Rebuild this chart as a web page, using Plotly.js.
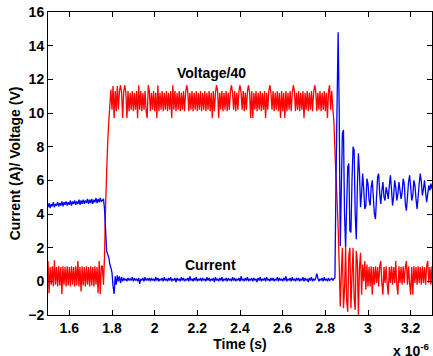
<!DOCTYPE html>
<html>
<head>
<meta charset="utf-8">
<script src="https://cdn.plot.ly/plotly-3.0.1.min.js"></script>
<style>html,body{margin:0;padding:0;background:#fff;}#chart{width:433px;height:356px;}</style>
</head>
<body>
<div id="chart"></div>
<script>
// Time in microseconds (axis shows x 10^-6 s)
const timeUs = [
  1.500,1.505,1.510,1.515,1.520,1.525,1.530,1.535,1.540,1.545,1.550,1.555,1.560,1.565,1.570,1.575,1.580,1.585,1.590,1.595,
  1.600,1.605,1.610,1.615,1.620,1.625,1.630,1.635,1.640,1.645,1.650,1.655,1.660,1.665,1.670,1.675,1.680,1.685,1.690,1.695,
  1.700,1.705,1.710,1.715,1.720,1.725,1.730,1.735,1.740,1.745,1.750,1.755,1.760,1.765,1.770,1.775,1.780,1.785,1.790,1.795,
  1.800,1.805,1.810,1.815,1.820,1.825,1.830,1.835,1.840,1.845,1.850,1.855,1.860,1.865,1.870,1.875,1.880,1.885,1.890,1.895,
  1.900,1.905,1.910,1.915,1.920,1.925,1.930,1.935,1.940,1.945,1.950,1.955,1.960,1.965,1.970,1.975,1.980,1.985,1.990,1.995,
  2.000,2.005,2.010,2.015,2.020,2.025,2.030,2.035,2.040,2.045,2.050,2.055,2.060,2.065,2.070,2.075,2.080,2.085,2.090,2.095,
  2.100,2.105,2.110,2.115,2.120,2.125,2.130,2.135,2.140,2.145,2.150,2.155,2.160,2.165,2.170,2.175,2.180,2.185,2.190,2.195,
  2.200,2.205,2.210,2.215,2.220,2.225,2.230,2.235,2.240,2.245,2.250,2.255,2.260,2.265,2.270,2.275,2.280,2.285,2.290,2.295,
  2.300,2.305,2.310,2.315,2.320,2.325,2.330,2.335,2.340,2.345,2.350,2.355,2.360,2.365,2.370,2.375,2.380,2.385,2.390,2.395,
  2.400,2.405,2.410,2.415,2.420,2.425,2.430,2.435,2.440,2.445,2.450,2.455,2.460,2.465,2.470,2.475,2.480,2.485,2.490,2.495,
  2.500,2.505,2.510,2.515,2.520,2.525,2.530,2.535,2.540,2.545,2.550,2.555,2.560,2.565,2.570,2.575,2.580,2.585,2.590,2.595,
  2.600,2.605,2.610,2.615,2.620,2.625,2.630,2.635,2.640,2.645,2.650,2.655,2.660,2.665,2.670,2.675,2.680,2.685,2.690,2.695,
  2.700,2.705,2.710,2.715,2.720,2.725,2.730,2.735,2.740,2.745,2.750,2.755,2.760,2.765,2.770,2.775,2.780,2.785,2.790,2.795,
  2.800,2.805,2.810,2.815,2.820,2.825,2.830,2.835,2.840,2.845,2.850,2.855,2.860,2.865,2.870,2.875,2.880,2.885,2.890,2.895,
  2.900,2.905,2.910,2.915,2.920,2.925,2.930,2.935,2.940,2.945,2.950,2.955,2.960,2.965,2.970,2.975,2.980,2.985,2.990,2.995,
  3.000,3.005,3.010,3.015,3.020,3.025,3.030,3.035,3.040,3.045,3.050,3.055,3.060,3.065,3.070,3.075,3.080,3.085,3.090,3.095,
  3.100,3.105,3.110,3.115,3.120,3.125,3.130,3.135,3.140,3.145,3.150,3.155,3.160,3.165,3.170,3.175,3.180,3.185,3.190,3.195,
  3.200,3.205,3.210,3.215,3.220,3.225,3.230,3.235,3.240,3.245,3.250,3.255,3.260,3.265,3.270,3.275,3.280,3.285,3.290,3.295,
  3.300
];

// Voltage divided by 40 (red)
const voltageOver40 = [
  // 1.500 - 1.750 (off state)
  1.2,-0.7,0.85,-0.2,0.9,-0.3,1.25,-0.2,0.85,-0.3,
  0.9,-0.25,0.85,-0.75,0.9,-0.2,0.85,-0.3,0.9,-0.25,
  0.85,-0.3,0.9,-0.2,0.85,-0.3,0.9,-0.25,1.2,-0.3,
  0.85,-0.6,0.9,-0.25,0.85,-0.3,0.9,-0.2,0.85,-0.3,
  0.9,-0.25,0.85,-0.3,0.9,-0.2,0.85,-0.7,1.2,-0.75,
  0.9,
  // 1.755 - 1.830 (turn on)
  0.9,-0.2,1.5,4.5,6.5,8.3,9.5,10.5,11.4,10.2,
  11.6,9.7,11.3,10.1,11.6,10.2,
  // 1.835 - 2.820 (on state)
  11.3,11.65,11.2,9.7,11.3,11.65,11.2,9.7,11.3,10.1,
  11.2,10.2,11.3,10.1,11.2,10.2,11.3,9.7,11.65,10.2,
  11.3,10.1,11.2,10.2,11.3,10.1,9.7,11.65,11.3,10.1,
  11.2,10.2,11.3,10.1,11.2,9.7,11.65,10.1,11.2,10.2,
  11.3,10.1,11.2,10.2,11.3,10.1,11.2,10.2,11.3,9.7,
  11.65,10.2,11.3,10.1,11.2,10.2,11.3,10.1,11.2,10.2,
  11.3,10.1,11.2,11.65,11.3,10.1,11.2,10.2,11.3,10.1,
  11.2,10.2,11.3,10.1,11.2,10.2,11.3,10.1,11.2,10.2,
  11.3,10.1,11.2,10.2,11.3,10.1,11.2,9.7,11.3,10.1,
  11.2,11.65,11.3,9.7,11.2,10.2,11.3,10.1,11.2,10.2,
  11.3,10.1,11.2,10.2,11.3,11.65,11.2,10.2,11.3,10.1,
  11.2,10.2,11.3,11.65,11.2,10.2,11.3,10.1,11.2,10.2,
  11.3,11.65,11.2,9.7,11.3,9.7,11.2,10.2,11.3,10.1,
  11.2,10.2,11.3,10.1,11.2,10.2,11.3,9.7,11.2,10.2,
  11.3,11.65,11.2,10.2,11.3,10.1,11.2,10.2,11.3,10.1,
  11.2,9.7,11.3,10.1,11.2,9.7,11.3,10.1,11.2,10.2,
  11.3,10.1,11.2,11.65,11.3,10.1,11.2,10.2,11.3,10.1,
  11.2,10.2,11.3,9.7,11.2,10.2,11.3,10.1,11.2,10.2,
  11.3,10.1,11.2,11.65,11.3,10.1,11.2,10.2,11.3,10.1,
  11.2,10.2,11.3,10.1,11.2,9.7,11.3,11.65,
  // 2.825 - 3.300 (turn off and ringing)
  10.2,11.3,10.3,9.5,7.8,6.2,4.8,3.2,1.0,-1.5,
  0.5,2.0,-1.6,-0.5,2.0,-1.2,-1.8,1.5,2.0,-1.6,
  0.3,2.0,-1.0,-1.7,1.8,1.2,-2.0,0.8,1.7,-0.8,
  1.0,0.0,1.2,-0.5,1.0,-0.3,0.85,-0.3,0.9,-0.8,
  0.85,-0.2,0.9,-0.1,0.85,-0.3,0.9,1.2,-0.1,-0.8,
  0.85,-0.1,0.9,-0.2,-0.8,0.85,-0.1,0.9,-0.2,0.85,
  -0.1,1.2,-0.2,-0.8,0.9,-0.1,0.85,-0.2,0.9,-0.1,
  0.85,1.2,-0.2,0.9,-0.1,-0.8,0.85,-0.8,0.9,-0.1,
  0.85,-0.2,0.9,-0.1,0.85,-0.2,0.9,-0.1,0.85,-0.2,
  0.9,1.2,-0.1,0.85,-0.2,0.9
];

// Current in amperes (blue)
const currentA = [
  // 1.500 - 1.750
  4.4,4.65,4.35,4.6,4.45,4.7,4.4,4.6,4.5,4.7,
  4.45,4.65,4.5,4.75,4.45,4.7,4.55,4.75,4.5,4.7,
  4.55,4.8,4.5,4.75,4.6,4.8,4.55,4.75,4.6,4.85,
  4.55,4.8,4.6,4.85,4.6,4.8,4.65,4.9,4.6,4.85,
  4.65,4.9,4.6,4.85,4.7,4.95,4.65,4.9,4.7,4.95,
  4.75,
  // 1.755 - 1.830
  4.8,4.9,4.3,3.0,1.8,1.6,1.4,1.0,0.8,0.5,
  -0.3,-0.75,0.3,-0.2,0.35,0.0,
  // 1.835 - 2.820
  0.3,-0.1,0.25,0.0,0.2,0.05,0.15,0.0,0.2,0.05,
  0.15,0.05,0.25,0.0,0.2,0.05,0.15,0.0,0.2,-0.15,
  0.15,0.05,0.2,0.0,0.25,0.05,0.15,0.05,0.2,0.0,
  0.2,0.05,0.15,0.0,0.25,0.05,0.2,0.0,0.15,0.05,
  0.2,0.0,0.25,0.05,0.15,0.0,0.2,0.05,0.25,0.0,
  0.15,0.05,0.2,-0.05,0.2,0.05,0.15,0.0,0.25,0.05,
  0.2,0.0,0.15,0.05,0.2,0.0,0.3,0.05,0.15,0.0,
  0.2,0.05,0.25,0.0,0.15,0.05,0.2,0.0,0.2,0.05,
  0.15,0.0,0.25,0.05,0.2,0.0,0.15,0.05,0.2,-0.05,
  0.25,0.05,0.15,0.0,0.2,0.05,0.25,0.0,0.15,0.05,
  0.2,0.0,0.2,0.05,0.15,0.0,0.25,0.05,0.2,0.0,
  0.15,0.05,0.2,0.0,0.3,0.05,0.15,0.0,0.2,0.05,
  0.25,0.0,0.15,0.05,0.2,0.0,0.2,0.05,0.15,-0.05,
  0.2,0.05,0.25,0.0,0.15,0.05,0.2,0.0,0.25,0.05,
  0.15,0.0,0.2,0.05,0.2,0.0,0.15,0.05,0.25,0.0,
  0.2,0.05,0.15,0.0,0.2,0.05,0.3,0.0,0.15,0.05,
  0.2,0.0,0.25,0.05,0.15,0.0,0.2,0.05,0.2,0.0,
  0.15,0.05,0.25,0.0,0.2,0.05,0.15,-0.05,0.2,0.05,
  0.25,0.0,0.15,0.05,0.2,0.45,0.2,0.0,0.15,0.05,
  0.2,0.0,0.25,0.05,0.15,0.0,0.2,0.05,
  // 2.825 - 3.300
  0.1,0.2,0.05,0.15,0.2,6.0,10.5,14.8,10.2,2.1,
  5.5,8.8,9.0,4.0,2.0,4.5,6.8,7.0,3.0,2.9,
  6.0,8.0,7.8,4.0,2.5,5.5,7.6,6.5,4.4,5.2,
  6.4,5.5,4.3,4.5,6.1,5.8,4.8,4.5,5.6,6.0,
  5.0,4.0,3.7,5.0,6.2,6.4,5.2,4.6,5.4,5.9,
  5.0,4.8,5.6,5.3,4.9,5.7,6.3,5.5,4.5,5.0,
  6.0,5.6,4.8,5.2,5.9,5.4,4.9,5.3,6.1,5.8,
  4.6,4.2,5.0,5.9,6.3,5.6,4.8,5.1,6.0,5.7,
  4.9,4.3,5.0,5.8,6.4,5.9,5.1,5.5,6.0,5.3,
  4.7,5.2,5.7,5.4,5.8,5.5
];

const xTickVals = [1.6,1.8,2.0,2.2,2.4,2.6,2.8,3.0,3.2];
const xTickText = ['1.6','1.8','2','2.2','2.4','2.6','2.8','3','3.2'];
const yTickVals = [-2,0,2,4,6,8,10,12,14,16];

const FONT = 'Liberation Sans, Arial, Helvetica, sans-serif';
const boldFont = (s) => ({family: FONT, size: s, color: '#000', weight: 'bold'});

const traces = [
  {x: timeUs, y: voltageOver40, type: 'scatter', mode: 'lines',
   line: {color: '#ff0000', width: 1.3, simplify: false}, hoverinfo: 'skip'},
  {x: timeUs, y: currentA, type: 'scatter', mode: 'lines',
   line: {color: '#0000ff', width: 1.3, simplify: false}, hoverinfo: 'skip'}
];

const axisCommon = {
  showline: true, linecolor: '#000', linewidth: 1, mirror: 'ticks',
  ticks: 'inside', ticklen: 5, tickwidth: 1, tickcolor: '#000',
  showgrid: false, zeroline: false, tickfont: boldFont(14)
};

const layout = {
  width: 433, height: 356,
  margin: {l: 48, r: 1, t: 12, b: 41},
  paper_bgcolor: '#fff', plot_bgcolor: '#fff',
  showlegend: false,
  xaxis: Object.assign({}, axisCommon, {
    range: [1.5, 3.3], tickmode: 'array', tickvals: xTickVals, ticktext: xTickText,
    title: {text: 'Time (s)', font: boldFont(14), standoff: 2}
  }),
  yaxis: Object.assign({}, axisCommon, {
    range: [-2, 16], tickmode: 'array', tickvals: yTickVals,
    title: {text: 'Current (A)/ Voltage (V)', font: boldFont(14), standoff: 4}
  }),
  annotations: [
    {x: 2.266, y: 12.37, xref: 'x', yref: 'y', text: 'Voltage/40', showarrow: false,
     font: boldFont(14)},
    {x: 2.261, y: 0.99, xref: 'x', yref: 'y', text: 'Current', showarrow: false,
     font: boldFont(14)},
    {x: 1.0, y: -0.115, xref: 'paper', yref: 'paper', xanchor: 'right', yanchor: 'middle',
     text: 'x 10<sup>-6</sup>', showarrow: false, font: boldFont(14)}
  ]
};

Plotly.newPlot('chart', traces, layout, {staticPlot: true, displayModeBar: false});
</script>
</body>
</html>
